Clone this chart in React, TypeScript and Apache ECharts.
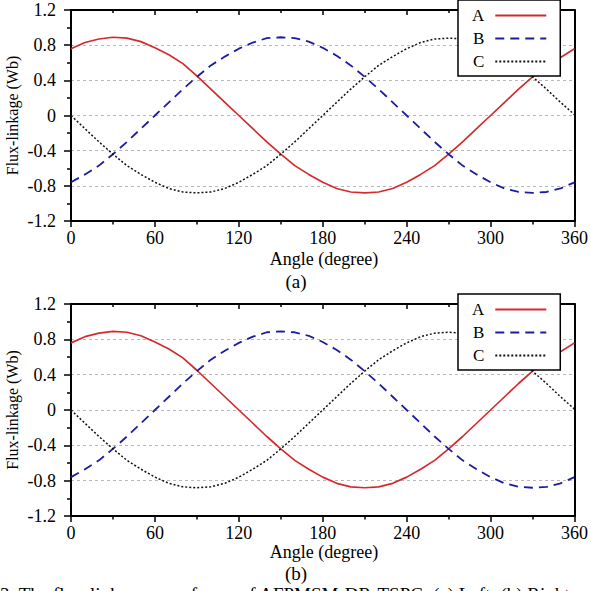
import React, { useEffect, useRef } from "react";
import * as echarts from "echarts";

const angles = [0, 10, 20, 30, 40, 50, 60, 70, 80, 90, 100, 110, 120, 130, 140, 150, 160, 170, 180, 190, 200, 210, 220, 230, 240, 250, 260, 270, 280, 290, 300, 310, 320, 330, 340, 350, 360];
const fluxA = [0.76, 0.83, 0.87, 0.89, 0.88, 0.84, 0.77, 0.69, 0.59, 0.45, 0.3, 0.15, 0.0, -0.15, -0.3, -0.44, -0.57, -0.67, -0.76, -0.83, -0.87, -0.88, -0.87, -0.83, -0.76, -0.67, -0.57, -0.44, -0.3, -0.15, 0.0, 0.15, 0.3, 0.44, 0.55, 0.66, 0.76];
const fluxB = [-0.76, -0.67, -0.57, -0.44, -0.3, -0.15, 0.0, 0.15, 0.3, 0.44, 0.57, 0.67, 0.76, 0.83, 0.88, 0.89, 0.88, 0.84, 0.77, 0.68, 0.57, 0.44, 0.3, 0.15, 0.0, -0.15, -0.3, -0.44, -0.57, -0.67, -0.76, -0.83, -0.87, -0.88, -0.87, -0.83, -0.76];
const fluxC = [0.0, -0.15, -0.3, -0.44, -0.57, -0.67, -0.76, -0.83, -0.87, -0.88, -0.87, -0.83, -0.76, -0.67, -0.57, -0.44, -0.3, -0.15, 0.0, 0.15, 0.3, 0.44, 0.57, 0.67, 0.76, 0.83, 0.87, 0.88, 0.87, 0.83, 0.76, 0.67, 0.57, 0.44, 0.3, 0.15, 0.01];
const seriesNames = ["A", "B", "C"];
const panelLabels = ["(a)", "(b)"];
const xTitle = "Angle (degree)";
const yTitle = "Flux-linkage (Wb)";
const caption = "3. The flux-linkage waveforms of AFPMSM-DR-TSPC: (a) Left; (b) Right";

const FONT = "Liberation Serif";

export default function App() {
  const ref = useRef<HTMLDivElement>(null);
  useEffect(() => {
    if (!ref.current) return;
    const chart = echarts.init(ref.current, null, { renderer: "svg" });
    const grids = [
      { left: 71, top: 10, width: 506, height: 211 },
      { left: 71, top: 304, width: 506, height: 212 },
    ];
    const styles = [
      { color: "#d42a2e", width: 1.7, type: "solid" as any },
      { color: "#1c1ca0", width: 1.8, type: [9, 6] as any },
      { color: "#111111", width: 1.5, type: [2, 2] as any },
    ];
    const dataSets = [fluxA, fluxB, fluxC];
    const xAxes: any[] = [];
    const yAxes: any[] = [];
    const series: any[] = [];
    const legends: any[] = [];
    const graphics: any[] = [];
    grids.forEach((g, gi) => {
      xAxes.push({
        gridIndex: gi,
        type: "value",
        position: "bottom",
        min: 0,
        max: 360,
        interval: 60,
        axisLine: { onZero: false, lineStyle: { color: "#000", width: 2 } },
        axisTick: { inside: false, length: 6, lineStyle: { color: "#000", width: 1.5 } },
        minorTick: { show: true, splitNumber: 2, length: 3.5, lineStyle: { color: "#000", width: 1.5 } },
        axisLabel: { margin: 8, color: "#000", fontFamily: FONT, fontSize: 18, lineHeight: 18 },
        splitLine: { show: false },
      });
      xAxes.push({
        gridIndex: gi,
        type: "value",
        position: "top",
        min: 0,
        max: 360,
        interval: 60,
        axisLine: { onZero: false, lineStyle: { color: "#000", width: 2 } },
        axisTick: { inside: true, length: 5, lineStyle: { color: "#000", width: 1.5 } },
        minorTick: { show: true, splitNumber: 2, length: 3, lineStyle: { color: "#000", width: 1.5 } },
        axisLabel: { show: false },
        splitLine: { show: false },
      });
      yAxes.push({
        gridIndex: gi,
        type: "value",
        position: "left",
        min: -1.2,
        max: 1.2,
        interval: 0.4,
        axisLine: { onZero: false, lineStyle: { color: "#000", width: 2 } },
        axisTick: { inside: false, length: 7, lineStyle: { color: "#000", width: 1.5 } },
        minorTick: { show: true, splitNumber: 2, length: 4, lineStyle: { color: "#000", width: 1.5 } },
        axisLabel: {
          margin: 15,
          color: "#000",
          fontFamily: FONT,
          fontSize: 18,
          formatter: (v: number) => String(Math.round(v * 10) / 10),
        },
        splitLine: { show: true, lineStyle: { color: "#b8b8b8", width: 1, type: [3, 3] } },
      });
      yAxes.push({
        gridIndex: gi,
        type: "value",
        position: "right",
        min: -1.2,
        max: 1.2,
        interval: 0.4,
        axisLine: { show: true, onZero: false, lineStyle: { color: "#000", width: 2 } },
        axisTick: { show: false },
        axisLabel: { show: false },
        splitLine: { show: false },
      });
      dataSets.forEach((d, si) => {
        series.push({
          type: "line",
          name: seriesNames[si],
          xAxisIndex: gi * 2,
          yAxisIndex: gi * 2,
          data: angles.map((a, i) => [a, d[i]]),
          symbol: "none",
          showSymbol: false,
          lineStyle: styles[si],
          itemStyle: { color: styles[si].color },
          z: 3,
        });
      });
      legends.push({
        data: seriesNames,
        left: 458,
        top: gi === 0 ? 0 : 294,
        orient: "vertical",
        align: "right",
        itemWidth: 51,
        itemHeight: 14,
        itemGap: 6,
        padding: [7, 13, 6, 14],
        borderColor: "#000",
        borderWidth: 1.5,
        backgroundColor: "#fff",
        selectedMode: false,
        itemStyle: { opacity: 0 },
        textStyle: { color: "#000", fontFamily: FONT, fontSize: 17, lineHeight: 15, padding: [0, 6, 0, 0] },
        z: 10,
      });
      const cy = g.top + g.height / 2;
      const bottom = g.top + g.height;
      graphics.push({
        type: "text",
        x: 12,
        y: cy,
        rotation: Math.PI / 2,
        style: { text: yTitle, fill: "#000", font: `16px "${FONT}"`, align: "center", verticalAlign: "middle" },
      });
      graphics.push({
        type: "text",
        x: g.left + g.width / 2,
        y: bottom + (gi === 0 ? 38 : 36),
        style: { text: xTitle, fill: "#000", font: `18px "${FONT}"`, align: "center", verticalAlign: "middle" },
      });
      graphics.push({
        type: "text",
        x: 296,
        y: bottom + (gi === 0 ? 60 : 57),
        style: { text: panelLabels[gi], fill: "#000", font: `19px "${FONT}"`, align: "center", verticalAlign: "middle" },
      });
    });
    graphics.push({
      type: "text",
      x: 0,
      y: 585,
      style: { text: caption, fill: "#000", font: `19px "${FONT}"`, align: "left", verticalAlign: "top" },
    });
    chart.setOption({
      animation: false,
      backgroundColor: "#fff",
      grid: grids,
      xAxis: xAxes,
      yAxis: yAxes,
      series,
      legend: legends,
      graphic: graphics,
    });
    return () => chart.dispose();
  }, []);
  return <div ref={ref} style={{ position: "absolute", left: 0, top: 0, width: 591, height: 591 }} />;
}
